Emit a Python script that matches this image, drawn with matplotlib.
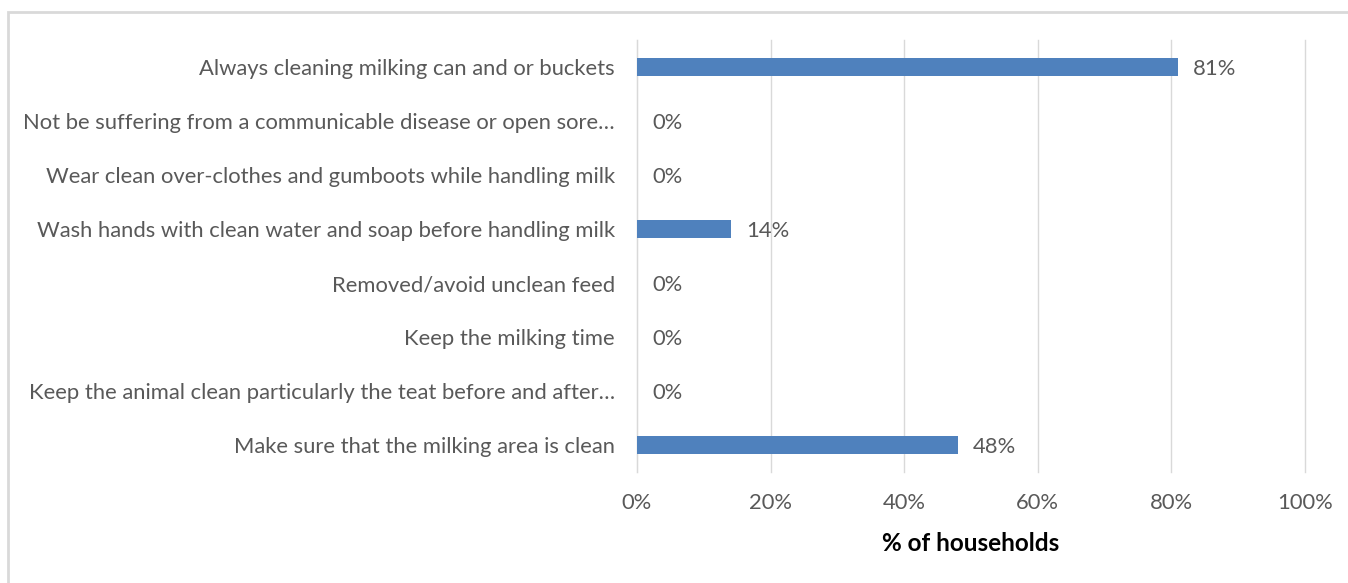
import matplotlib
matplotlib.use("Agg")
import matplotlib.pyplot as plt
from matplotlib.patches import Rectangle

categories = [
    "Always cleaning milking can and or buckets",
    "Not be suffering from a communicable disease or open sore\u2026",
    "Wear clean over-clothes and gumboots while handling milk",
    "Wash hands with clean water and soap before handling milk",
    "Removed/avoid unclean feed",
    "Keep the milking time",
    "Keep the animal clean particularly the teat before and after\u2026",
    "Make sure that the milking area is clean",
]
values = [81, 0, 0, 14, 0, 0, 0, 48]
x_ticks = [0, 20, 40, 60, 80, 100]
x_label = "% of households"

plt.rcParams["font.family"] = ["Lato", "DejaVu Sans"]
text_color = "#595959"
bar_color = "#4F81BD"
fs = 15.8

fig = plt.figure(figsize=(13.48, 5.83), dpi=100)
fig.patches.append(Rectangle((8 / 1348, -0.1), 1.2, 1 - 12 / 583 + 0.1,
                             transform=fig.transFigure, fill=False,
                             edgecolor="#D9D9D9", linewidth=2))

ax = fig.add_axes([637 / 1348, 1 - 472 / 583, 668 / 1348, 432 / 583])
ypos = list(range(len(categories)))
ax.barh(ypos, values, height=0.35, color=bar_color, zorder=3)
ax.set_ylim(len(categories) - 0.5, -0.5)
ax.set_xlim(0, 100)
ax.set_xticks(x_ticks)
ax.set_xticklabels([f"{t}%" for t in x_ticks])
ax.set_yticks(ypos)
ax.set_yticklabels(categories, va="center_baseline")

for y, v in zip(ypos, values):
    ax.annotate(f"{v}%", (v, y), xytext=(11, -1.2), textcoords="offset points",
                ha="left", va="center", fontsize=fs, color=text_color)

ax.grid(axis="x", color="#D9D9D9", linewidth=1, zorder=0)
for gl in ax.get_xgridlines():
    gl.set_clip_on(False)
for s in ["top", "right", "bottom"]:
    ax.spines[s].set_visible(False)
ax.spines["left"].set_color("#D9D9D9")
ax.spines["left"].set_zorder(0)
ax.tick_params(axis="both", length=0, labelsize=fs, labelcolor=text_color)
ax.tick_params(axis="y", pad=16)
ax.tick_params(axis="x", pad=15)
ax.set_xlabel(x_label, fontsize=17.5, fontweight="bold", color="black", labelpad=14)

fig.savefig("out.png", dpi=100)
